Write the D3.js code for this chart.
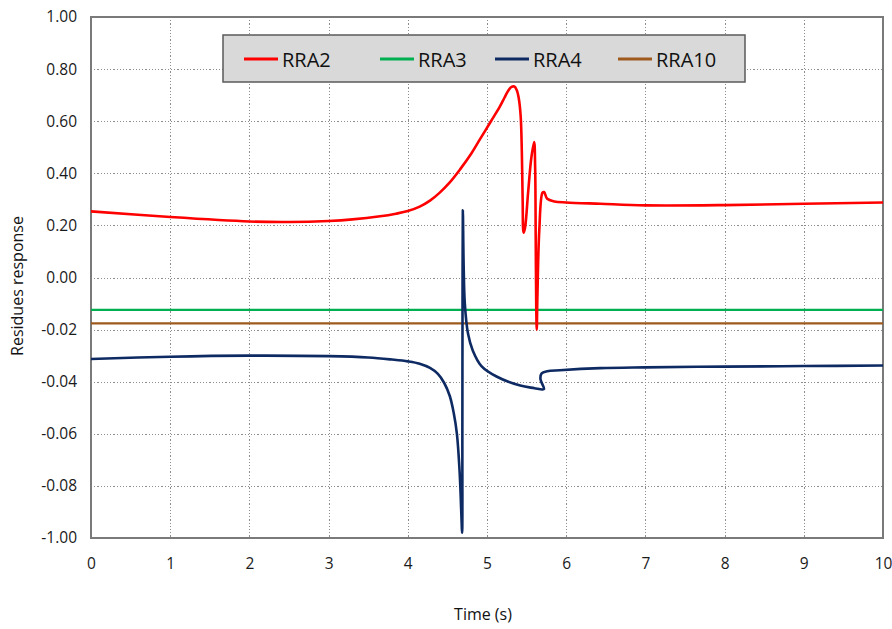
<!DOCTYPE html>
<html>
<head>
<meta charset="utf-8">
<style>
    body { margin: 0; background: #fff; }
    svg { font-family: "Open Sans", sans-serif; }
    .grid line { stroke: #8c8c8c; stroke-width: 1; stroke-dasharray: 1.2, 2; shape-rendering: crispEdges; }
    .tick text { fill: #1a1a1a; }
</style>
</head>
<body>
<script src="https://d3js.org/d3.v7.min.js"></script>
<script>

// values are read in the chart's own (evenly spaced) y units: gridlines at -1, -0.8 ... 1
var yLabels = ["-1.00", "-0.08", "-0.06", "-0.04", "-0.02", "0.00", "0.20", "0.40", "0.60", "0.80", "1.00"];
var xTicks = [0, 1, 2, 3, 4, 5, 6, 7, 8, 9, 10];
var names = ["RRA2", "RRA3", "RRA4", "RRA10"];
var colors = ["#ff0000", "#00b050", "#0e2a63", "#9e5a1c"];

var rra2 = [[0, 0.254], [1, 0.232], [2, 0.215], [2.5, 0.213], [3, 0.217], [3.3, 0.223], [3.65, 0.235],
    [3.85, 0.245], [4, 0.255], [4.15, 0.272], [4.28, 0.295], [4.4, 0.325], [4.53, 0.365], [4.66, 0.415],
    [4.8, 0.475], [4.91, 0.53], [5.05, 0.60], [5.16, 0.655], [5.22, 0.69], [5.27, 0.718], [5.31, 0.732],
    [5.345, 0.733], [5.375, 0.72], [5.40, 0.69], [5.425, 0.62], [5.44, 0.48], [5.45, 0.30], [5.462, 0.172],
    [5.48, 0.19], [5.52, 0.33], [5.56, 0.46], [5.595, 0.52], [5.608, 0.42], [5.615, 0.15], [5.622, -0.12],
    [5.628, -0.2], [5.636, -0.08], [5.66, 0.18], [5.70, 0.325], [5.72, 0.328], [5.76, 0.302], [5.85, 0.292],
    [6.0, 0.288], [6.43, 0.283], [7, 0.277], [8, 0.278], [9, 0.283], [10, 0.288]];
var rra3 = [[0, -0.124], [10, -0.124]];
var rra4 = [[0, -0.313], [1, -0.304], [2, -0.300], [3, -0.302], [3.5, -0.307], [3.8, -0.315], [4.0, -0.322],
    [4.15, -0.331], [4.28, -0.347], [4.38, -0.37], [4.46, -0.405], [4.53, -0.455], [4.58, -0.52], [4.62, -0.60],
    [4.655, -0.75], [4.675, -0.90], [4.686, -0.98], [4.689, -0.6], [4.691, -0.1], [4.695, 0.258], [4.705, 0.05],
    [4.72, -0.10], [4.76, -0.215], [4.82, -0.28], [4.93, -0.34], [5.12, -0.38], [5.42, -0.415], [5.60, -0.425],
    [5.70, -0.43], [5.72, -0.428], [5.675, -0.39], [5.69, -0.368], [5.76, -0.36], [5.92, -0.356], [6.43, -0.348],
    [7, -0.345], [8, -0.342], [9, -0.34], [10, -0.338]];
var rra10 = [[0, -0.176], [10, -0.176]];

var series = [rra2, rra3, rra4, rra10];
var drawOrder = [1, 3, 2, 0];

var width = 892, height = 629;
var margin = { top: 17, right: 9, bottom: 91, left: 91 };
var w = width - margin.left - margin.right,
    h = height - margin.top - margin.bottom;

var svg = d3.select("body").append("svg")
    .attr("width", width)
    .attr("height", height);

var g = svg.append("g")
    .attr("transform", "translate(" + margin.left + "," + margin.top + ")");

var x = d3.scaleLinear().domain([0, 10]).range([0, w]);
var y = d3.scaleLinear().domain([-1, 1]).range([h, 0]);
var yTicks = d3.range(11).map(function (i) { return -1 + i * 0.2; });

// gridlines
var grid = g.append("g").attr("class", "grid");
grid.selectAll(".v").data(xTicks.slice(1, -1)).enter().append("line")
    .attr("x1", function (d) { return Math.round(x(d)) + 0.5; })
    .attr("x2", function (d) { return Math.round(x(d)) + 0.5; })
    .attr("y1", 0).attr("y2", h);
grid.selectAll(".h").data(yTicks.slice(1, -1)).enter().append("line")
    .attr("y1", function (d) { return Math.round(y(d)) + 0.5; })
    .attr("y2", function (d) { return Math.round(y(d)) + 0.5; })
    .attr("x1", 0).attr("x2", w);

// axes (labels only)
var yAxis = d3.axisLeft(y).tickValues(yTicks).tickSize(0).tickPadding(14)
    .tickFormat(function (d, i) { return yLabels[i]; });
var xAxis = d3.axisBottom(x).tickValues(xTicks).tickSize(0).tickPadding(20)
    .tickFormat(d3.format("d"));

g.append("g").call(yAxis)
    .call(function (s) { s.select(".domain").remove(); })
    .selectAll("text").style("font-size", "15.5px").style("font-family", "'Open Sans', sans-serif");

g.append("g").attr("transform", "translate(0," + h + ")").call(xAxis)
    .call(function (s) { s.select(".domain").remove(); })
    .selectAll("text").style("font-size", "15.5px").style("font-family", "'Open Sans', sans-serif");

// frame
g.append("rect")
    .attr("x", 0).attr("y", 0).attr("width", w).attr("height", h)
    .attr("fill", "none").attr("stroke", "#7a7a7a").attr("stroke-width", 2);

// curves
var line = d3.line()
    .x(function (d) { return x(d[0]); })
    .y(function (d) { return y(d[1]); })
    .curve(d3.curveCatmullRom.alpha(0.5));

drawOrder.forEach(function (k) {
    g.append("path")
        .datum(series[k])
        .attr("fill", "none")
        .attr("stroke", colors[k])
        .attr("stroke-width", k === 1 || k === 3 ? 2.2 : 2.6)
        .attr("stroke-linejoin", "round")
        .attr("d", line);
});

// legend
var legend = svg.append("g").attr("transform", "translate(223,35)");
legend.append("rect")
    .attr("width", 522).attr("height", 47)
    .attr("fill", "#d9d9d9").attr("stroke", "#5a5a5a").attr("stroke-width", 1.5);

var legendX = [21, 157, 272, 395];
var item = legend.selectAll(".item").data(names).enter().append("g")
    .attr("transform", function (d, i) { return "translate(" + legendX[i] + ",24)"; });
item.append("line")
    .attr("x1", 0).attr("x2", 34)
    .attr("stroke", function (d, i) { return colors[i]; })
    .attr("stroke-width", 3);
item.append("text")
    .attr("x", 38).attr("y", 8)
    .style("font-size", "20px")
    .attr("fill", "#111")
    .text(function (d) { return d; });

// titles
svg.append("text")
    .attr("transform", "translate(23,286) rotate(-90)")
    .attr("text-anchor", "middle")
    .style("font-size", "16px")
    .attr("fill", "#111")
    .text("Residues response");

svg.append("text")
    .attr("x", 483).attr("y", 620)
    .attr("text-anchor", "middle")
    .style("font-size", "16px")
    .attr("fill", "#111")
    .text("Time (s)");

</script>
</body>
</html>
